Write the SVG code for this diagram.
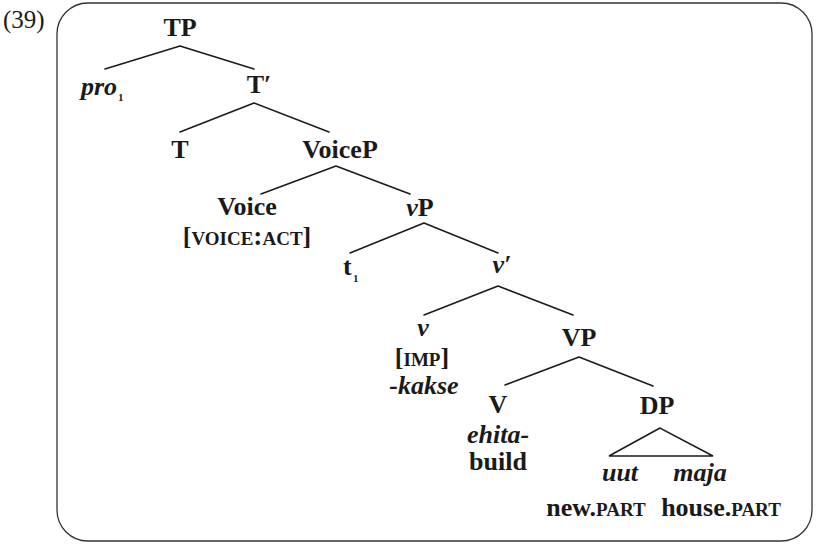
<svg xmlns="http://www.w3.org/2000/svg" width="817" height="546" viewBox="0 0 817 546">
  <style>
    .lbl { font-family: "Liberation Serif", "DejaVu Serif", serif; font-size: 26px; font-weight: bold; fill: #1a1a1a; text-anchor: middle; }
    .it { font-style: italic; }
    .sc { font-variant: small-caps; font-size: 27.5px; }
    .start { text-anchor: start; }
    .sub { font-size: 11px; text-anchor: start; }
    .edge { stroke: #1a1a1a; stroke-width: 1.5; fill: none; stroke-linecap: round; }
    .frame { fill: #ffffff; stroke: #333333; stroke-width: 1.3; }
    .num { font-family: "Liberation Serif", "DejaVu Serif", serif; font-size: 25px; fill: #1a1a1a; }
  </style>

  <rect width="817" height="546" fill="#ffffff"/>
  <text class="num" x="3" y="28">(39)</text>
  <rect class="frame" x="57" y="3" width="755" height="538" rx="31" ry="31"/>

  <!-- branches -->
  <g id="connectors">
    <path class="edge" d="M180,46 L105,69 M180,46 L254,69"/>
    <path class="edge" d="M254,103 L180,132 M254,103 L329,132"/>
    <path class="edge" d="M336,166 L261,194 M336,166 L410,194"/>
    <path class="edge" d="M424,223 L350,253 M424,223 L498,253"/>
    <path class="edge" d="M498,286 L424,315 M498,286 L573,315"/>
    <path class="edge" d="M579,357 L505,385 M579,357 L653,386"/>
    <path class="edge" d="M660,428 L609,456 L713,456 Z"/>
  </g>

  <g id="TP"><text class="lbl" x="180" y="36">TP</text></g>
  <g id="pro"><text class="lbl it start" x="81" y="95">pro</text><text class="lbl sub" x="118" y="101">1</text></g>
  <g id="Tbar"><text class="lbl" x="259" y="93">T′</text></g>
  <g id="T"><text class="lbl" x="180" y="158">T</text></g>
  <g id="VoiceP"><text class="lbl" x="340" y="158">VoiceP</text></g>
  <g id="Voice">
    <text class="lbl" x="247" y="215">Voice</text>
    <text class="lbl" x="247" y="245">[<tspan class="sc">voice:act</tspan>]</text>
  </g>
  <g id="vP"><text class="lbl" x="420" y="216"><tspan class="it">ν</tspan>P</text></g>
  <g id="trace"><text class="lbl start" x="343" y="275">t</text><text class="lbl sub" x="353" y="282">1</text></g>
  <g id="vbar"><text class="lbl it" x="502" y="273">ν′</text></g>
  <g id="v">
    <text class="lbl it" x="423" y="336">ν</text>
    <text class="lbl" x="422" y="366">[<tspan class="sc">imp</tspan>]</text>
    <text class="lbl it" x="424" y="394">-kakse</text>
  </g>
  <g id="VP"><text class="lbl" x="579" y="346">VP</text></g>
  <g id="V">
    <text class="lbl" x="498" y="413">V</text>
    <text class="lbl it" x="498" y="443">ehita-</text>
    <text class="lbl" x="498" y="470">build</text>
  </g>
  <g id="DP">
    <text class="lbl" x="657" y="414">DP</text>
    <text class="lbl it" x="620" y="481">uut</text>
    <text class="lbl it" x="700" y="481">maja</text>
    <text class="lbl" x="596" y="516">new.<tspan class="sc">part</tspan></text>
    <text class="lbl" x="721" y="516">house.<tspan class="sc">part</tspan></text>
  </g>
</svg>
